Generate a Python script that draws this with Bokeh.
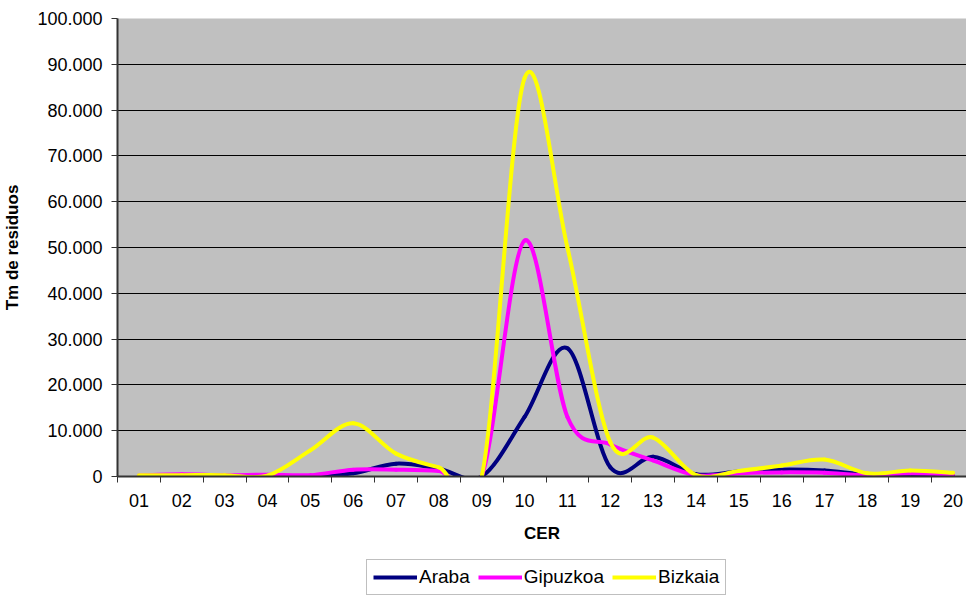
from bokeh.plotting import figure
from bokeh.layouts import column
from bokeh.models import Range1d, FixedTicker, Legend, LegendItem
from bokeh.embed import file_html
from bokeh.resources import INLINE

categories = ["01", "02", "03", "04", "05", "06", "07", "08", "09", "10",
              "11", "12", "13", "14", "15", "16", "17", "18", "19", "20"]
araba = [0, 100, 100, 100, 100, 700, 2800, 1700, 0, 13000,
         28000, 2000, 4300, 500, 1100, 1500, 1300, 400, 500, 300]
gipuzkoa = [200, 500, 300, 400, 300, 1500, 1500, 1200, 0, 51500,
            13000, 7000, 3500, 300, 700, 900, 800, 300, 700, 400]
bizkaia = [300, 300, 300, 200, 5700, 11600, 5000, 2000, 0, 87000,
           50000, 7500, 8500, 300, 1200, 2400, 3700, 700, 1300, 800]
series_names = ["Araba", "Gipuzkoa", "Bizkaia"]
series_colors = ["#000080", "#FF00FF", "#FFFF00"]
y_ticks = [0, 10000, 20000, 30000, 40000, 50000, 60000, 70000, 80000, 90000, 100000]
y_tick_labels = ["0", "10.000", "20.000", "30.000", "40.000", "50.000",
                 "60.000", "70.000", "80.000", "90.000", "100.000"]

FONT = "Liberation Sans"
xs = list(range(1, len(categories) + 1))


def smooth_segments(x, y):
    n = len(x)
    d = dict(x0=[], y0=[], x1=[], y1=[], cx0=[], cy0=[], cx1=[], cy1=[])
    for i in range(n - 1):
        im = max(i - 1, 0)
        ip2 = min(i + 2, n - 1)
        d["x0"].append(x[i]); d["y0"].append(y[i])
        d["x1"].append(x[i + 1]); d["y1"].append(y[i + 1])
        d["cx0"].append(x[i] + (x[i + 1] - x[im]) / 6.0)
        d["cy0"].append(y[i] + (y[i + 1] - y[im]) / 6.0)
        d["cx1"].append(x[i + 1] - (x[ip2] - x[i]) / 6.0)
        d["cy1"].append(y[i + 1] - (y[ip2] - y[i]) / 6.0)
    return d


p = figure(width=966, height=546, output_backend="svg", toolbar_location=None,
           x_range=Range1d(0.5, 0.5 + 849 / 42.85), y_range=Range1d(0, 100000),
           min_border_left=117, min_border_right=0, min_border_top=18,
           min_border_bottom=70)
p.background_fill_color = "#C0C0C0"
p.border_fill_color = "white"
p.outline_line_color = None

for vals, col in zip([araba, gipuzkoa, bizkaia], series_colors):
    seg = smooth_segments(xs, vals)
    p.bezier(x0="x0", y0="y0", x1="x1", y1="y1", cx0="cx0", cy0="cy0",
             cx1="cx1", cy1="cy1", source=seg, line_color=col, line_width=4,
             line_cap="round", line_join="round")

# x axis
p.xaxis.ticker = FixedTicker(ticks=xs, minor_ticks=[v + 0.5 for v in range(0, len(xs) + 1)])
p.xaxis.major_label_overrides = {x: c for x, c in zip(xs, categories)}
p.xaxis.major_tick_out = 0
p.xaxis.major_tick_in = 0
p.xaxis.minor_tick_out = 6
p.xaxis.minor_tick_in = 0
p.xaxis.minor_tick_line_color = "#333333"
p.xaxis.axis_label = "CER"

# y axis
p.yaxis.ticker = FixedTicker(ticks=y_ticks, minor_ticks=[])
p.yaxis.major_label_overrides = {t: l for t, l in zip(y_ticks, y_tick_labels)}
p.yaxis.major_tick_out = 6
p.yaxis.major_tick_in = 0
p.yaxis.axis_label = "Tm de residuos"

for ax in (p.xaxis, p.yaxis):
    ax.axis_line_color = "#333333"
    ax.axis_line_width = 2
    ax.major_tick_line_color = "#333333"
    ax.major_label_text_font = FONT
    ax.major_label_text_font_size = "18px"
    ax.major_label_text_color = "black"
    ax.axis_label_text_font = FONT
    ax.axis_label_text_font_size = "17px"
    ax.axis_label_text_font_style = "bold"
    ax.axis_label_text_color = "black"

p.xaxis.major_label_standoff = 11
p.xaxis.axis_label_standoff = 14
p.yaxis.major_label_standoff = 9
p.yaxis.axis_label_standoff = 12

p.xgrid.grid_line_color = None
p.ygrid.ticker = FixedTicker(ticks=y_ticks)
p.ygrid.grid_line_color = "black"
p.ygrid.grid_line_width = 1

# legend strip below the chart
lf = figure(width=966, height=50, output_backend="svg", toolbar_location=None,
            x_range=Range1d(0, 1), y_range=Range1d(0, 1),
            min_border_left=0, min_border_right=0, min_border_top=0, min_border_bottom=0)
lf.axis.visible = False
lf.grid.visible = False
lf.outline_line_color = None
lf.background_fill_color = "white"
lf.border_fill_color = "white"

items = []
for name, col in zip(series_names, series_colors):
    r = lf.line(x=[-5, -4], y=[-5, -5], line_color=col, line_width=4)
    items.append(LegendItem(label=name, renderers=[r]))

legend = Legend(items=items, orientation="horizontal", location=(249, 1),
                label_text_font=FONT, label_text_font_size="19px",
                label_text_color="black",
                glyph_width=44, glyph_height=20, label_height=20, label_standoff=2,
                spacing=8, padding=6, margin=0,
                border_line_color="#808080", border_line_width=1,
                background_fill_color="white", background_fill_alpha=1.0)
lf.add_layout(legend, "center")

layout = column(p, lf, spacing=0)
open("out.html", "w").write(file_html(layout, INLINE))
